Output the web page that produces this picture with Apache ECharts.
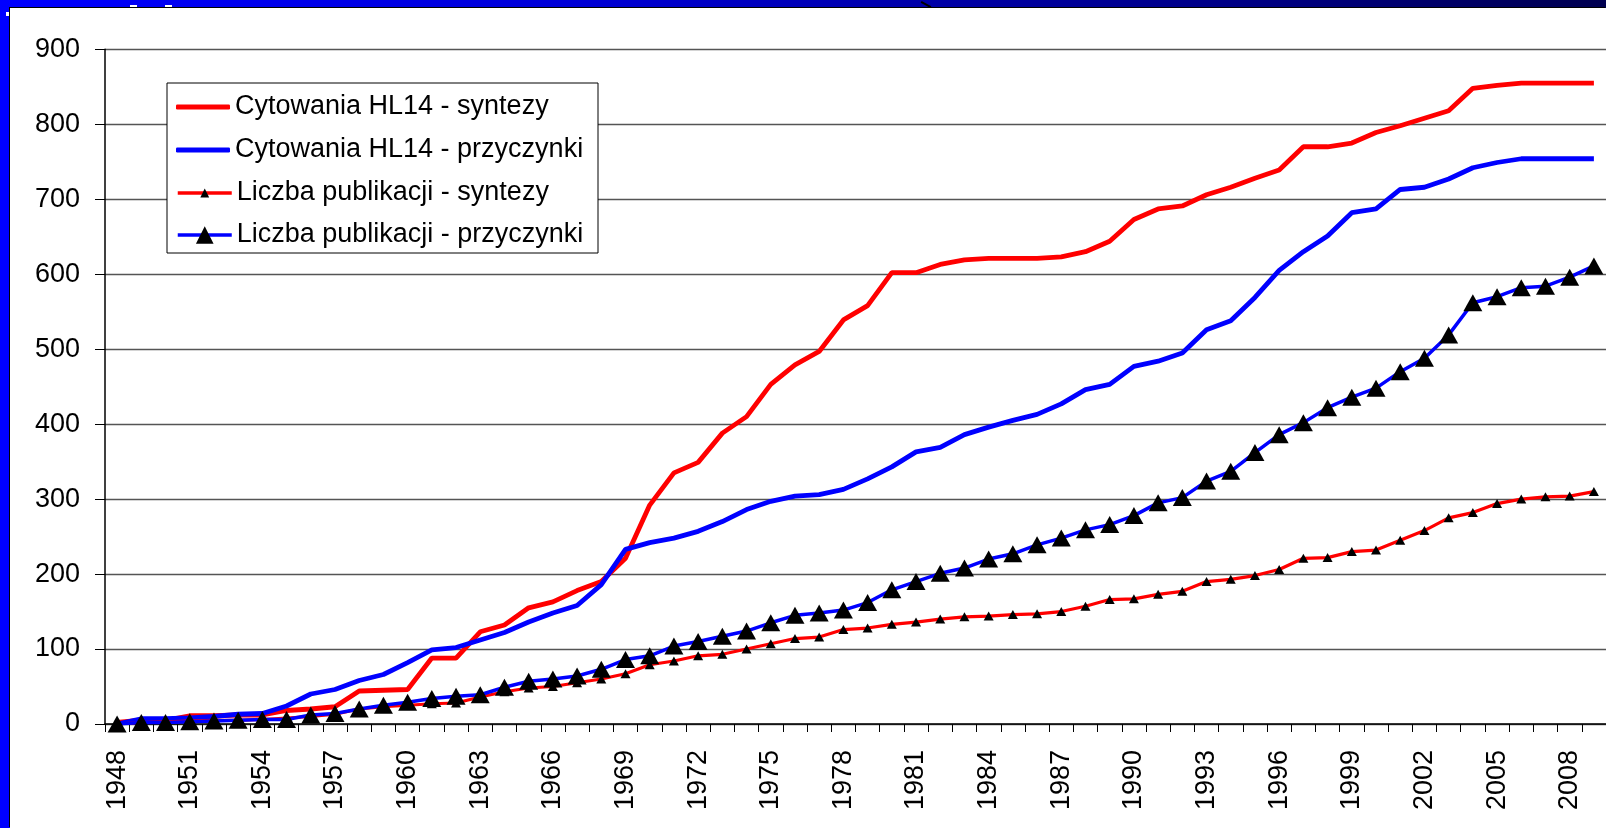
<!DOCTYPE html>
<html lang="pl">
<head>
    <meta charset="UTF-8">
    <title>Cytowania HL14</title>
    <script src="https://cdn.jsdelivr.net/npm/echarts@6.0.0/dist/echarts.min.js"></script>
    <style>
        html, body { margin: 0; padding: 0; width: 1606px; height: 828px; overflow: hidden; background: #0000ff; }
        #topband { position: absolute; left: 0; top: 0; width: 1606px; height: 8px;
            background: linear-gradient(to right, #0000ff 0%, #0000d8 35%, #0000a8 58%, #000080 80%, #000050 100%); }
        #chart { position: absolute; left: 10px; top: 8px; width: 1596px; height: 820px; background: #fff;
            box-shadow: -1px -1px 0 #000; }
        .bit { position: absolute; background: #fff; }
        #slash { position: absolute; left: 925px; top: -1px; width: 2px; height: 11px; background: #000; transform: rotate(-62deg); }
    </style>
</head>
<body>
<div id="topband"></div>
<div class="bit" style="left:130px;top:5px;width:7px;height:3px"></div>
<div class="bit" style="left:165px;top:5px;width:7px;height:3px"></div>
<div class="bit" style="left:6px;top:12px;width:4px;height:4px"></div>
<div id="slash"></div>
<div id="chart"></div>
<script>
    // dane --------------------------
    var years = [];
    for (var y = 1948; y <= 2009; y++) { years.push(String(y)); }

    var citSyntezy = [2, 5, 5, 11, 11, 12, 12, 18, 20, 23,
        44, 45, 46, 88, 88, 123, 132, 155, 163, 178,
        190, 221, 292, 335, 349, 388, 410, 453, 479, 497,
        539, 558, 602, 602, 613, 619, 621, 621, 621, 623,
        630, 644, 673, 687, 691, 706, 716, 728, 739, 770,
        770, 775, 789, 798, 808, 818, 848, 852, 855, 855,
        855, 855];

    var citPrzyczynki = [0, 7, 7, 8, 10, 13, 14, 24, 40, 46,
        58, 66, 82, 99, 102, 112, 122, 136, 148, 158,
        186, 233, 242, 248, 257, 270, 286, 297, 304, 306,
        313, 327, 343, 363, 369, 386, 396, 405, 413, 427,
        446, 453, 477, 484, 495, 526, 538, 569, 605, 630,
        651, 682, 687, 713, 716, 727, 742, 749, 754, 754,
        754, 754];

    var pubSyntezy = [0, 2, 3, 4, 5, 5, 6, 8, 10, 13,
        20, 23, 25, 27, 28, 36, 43, 48, 50, 55,
        60, 67, 79, 84, 91, 93, 100, 107, 114, 116,
        126, 128, 133, 136, 140, 143, 144, 146, 147, 150,
        157, 166, 167, 173, 177, 190, 193, 198, 206, 221,
        222, 230, 232, 245, 258, 275, 282, 294, 300, 303,
        304, 310];

    var pubPrzyczynki = [0, 2, 2, 3, 4, 5, 6, 6, 12, 14,
        20, 25, 29, 34, 37, 39, 49, 57, 60, 64,
        73, 86, 91, 104, 110, 117, 124, 135, 145, 148,
        152, 162, 179, 190, 201, 208, 220, 227, 239, 248,
        259, 266, 278, 295, 302, 324, 337, 362, 386, 402,
        422, 436, 448, 470, 488, 519, 562, 570, 582, 584,
        596, 611];

    var seriesNames = ['Cytowania HL14 - syntezy', 'Cytowania HL14 - przyczynki',
        'Liczba publikacji - syntezy', 'Liczba publikacji - przyczynki'];

    // wykres --------------------------
    var FONT = "'Liberation Sans', Arial, sans-serif";

    function oneLegend(name, top, itemHeight, icon, lineWidth) {
        var item = { name: name };
        if (icon) { item.icon = icon; }
        return {
            data: [item],
            left: 166,
            top: top,
            padding: 0,
            itemWidth: 54,
            itemHeight: itemHeight,
            selectedMode: false,
            lineStyle: { width: lineWidth },
            textStyle: { fontSize: 27, color: '#000', fontFamily: FONT, lineHeight: 30 }
        };
    }

    var chart = echarts.init(document.getElementById('chart'));
    var option = {
        animation: false,
        textStyle: { fontFamily: FONT },
        grid: { left: 95, top: 41.3, right: -8, bottom: 104, containLabel: false },
        graphic: [{
            type: 'rect',
            z: 3,
            shape: { x: 157, y: 75, width: 431, height: 170 },
            style: { fill: '#fff', stroke: '#000', lineWidth: 1 }
        }],
        legend: [
            oneLegend(seriesNames[0], 84, 5, 'roundRect', 5),
            oneLegend(seriesNames[1], 127, 5, 'roundRect', 5),
            oneLegend(seriesNames[2], 170, 11, null, 3.5),
            oneLegend(seriesNames[3], 212, 22, null, 3.5)
        ],
        xAxis: {
            type: 'category',
            data: years,
            boundaryGap: true,
            axisLine: { lineStyle: { color: '#000', width: 1.5 } },
            axisTick: { show: true, interval: 0, length: 8, lineStyle: { color: '#000' } },
            axisLabel: { interval: 2, rotate: 90, fontSize: 27, color: '#000', margin: 26, fontFamily: FONT },
            splitLine: { show: false }
        },
        yAxis: {
            type: 'value',
            min: 0,
            max: 900,
            interval: 100,
            axisLine: { show: true, lineStyle: { color: '#000', width: 1.5 } },
            axisTick: { show: true, length: 10, lineStyle: { color: '#000' } },
            axisLabel: { fontSize: 27, color: '#000', margin: 25, fontFamily: FONT },
            splitLine: { lineStyle: { color: '#555', width: 1.4 } }
        },
        series: [
            {
                name: seriesNames[0],
                type: 'line',
                data: citSyntezy,
                symbol: 'none',
                itemStyle: { color: '#ff0000' },
                lineStyle: { color: '#ff0000', width: 4.8 }
            },
            {
                name: seriesNames[1],
                type: 'line',
                data: citPrzyczynki,
                symbol: 'none',
                itemStyle: { color: '#0000ff' },
                lineStyle: { color: '#0000ff', width: 4.8 }
            },
            {
                name: seriesNames[2],
                type: 'line',
                data: pubSyntezy,
                symbol: 'triangle',
                symbolSize: [10, 9],
                showAllSymbol: true,
                itemStyle: { color: '#000' },
                lineStyle: { color: '#ff0000', width: 3.2 }
            },
            {
                name: seriesNames[3],
                type: 'line',
                data: pubPrzyczynki,
                symbol: 'triangle',
                symbolSize: [19, 17],
                showAllSymbol: true,
                itemStyle: { color: '#000' },
                lineStyle: { color: '#0000ff', width: 3.5 }
            }
        ]
    };
    chart.setOption(option);
</script>
</body>
</html>
